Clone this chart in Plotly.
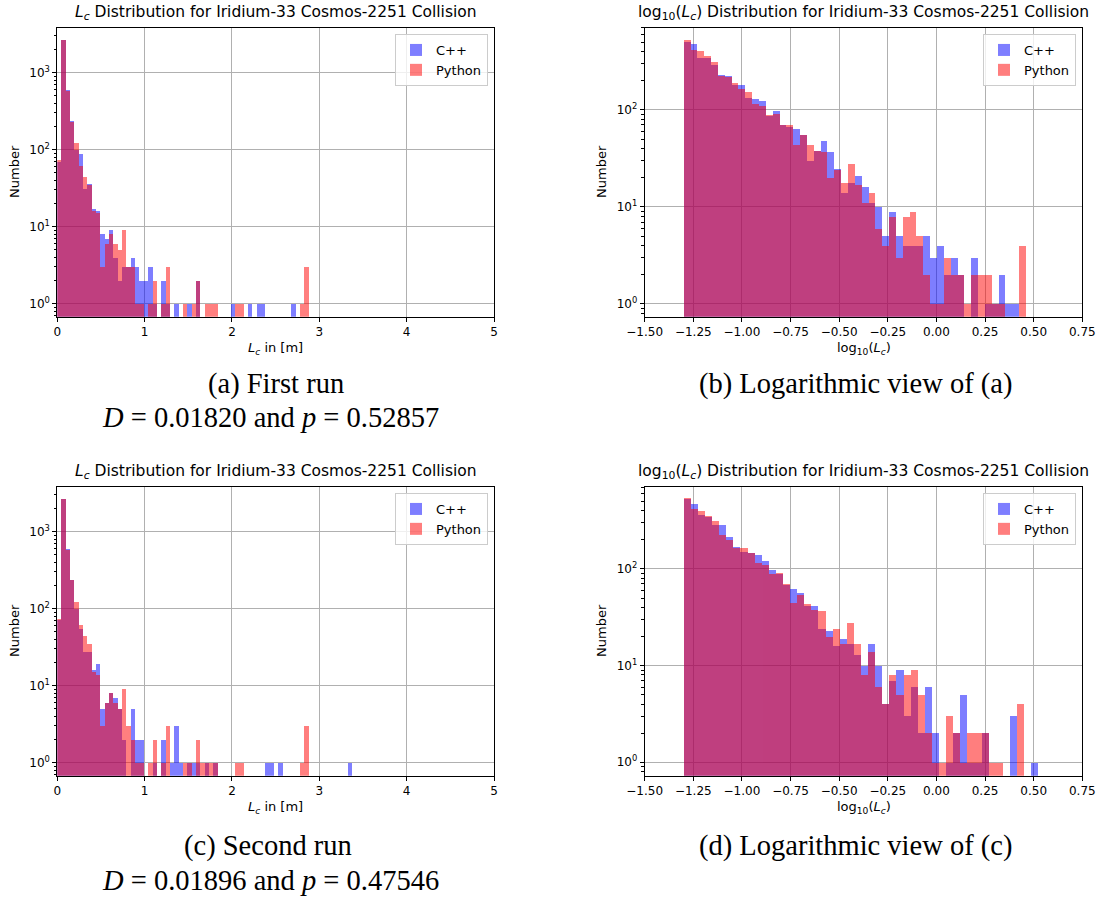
import numpy as np
import plotly.graph_objects as go

W, H = 1107, 898          # browser window
PAGE_MARGIN = 0           # body margin removed by the post script below
FIG_W, FIG_H = W - PAGE_MARGIN, H - PAGE_MARGIN

# ---- histogram bin layout ----
LIN_BIN_START = 0.0
LIN_BIN_WIDTH = 0.0497
LOG_MIN = -1.301
RUN1_LOG_MAX = 0.459
RUN2_LOG_MAX = 0.522

# ---- counts per bin, first run ----
run1_lin_cpp = [70, 2690, 600, 240, 100, 88, 31, 36, 17, 16,
                8, 7, 9, 4, 2, 3, 3, 4, 3, 2,
                2, 3, 1, 0, 2, 1, 0, 1, 0, 0,
                1, 0, 2, 0, 0, 0, 0, 0, 0, 0,
                1, 0, 0, 0, 1, 0, 1, 1, 0, 0,
                0, 0, 0, 0, 1]
run1_lin_py = [73, 2710, 585, 233, 122, 62, 45, 35, 16, 15,
               3, 6, 8, 6, 5, 9, 3, 3, 1, 1,
               0, 1, 2, 0, 1, 3, 0, 0, 0, 1,
               0, 1, 2, 0, 1, 1, 1, 0, 0, 0,
               0, 1, 1, 0, 0, 0, 0, 0, 0, 0,
               0, 0, 0, 0, 0, 0, 1, 3]
run1_log_cpp = [506, 479, 349, 345, 296, 229, 224, 184, 181, 134,
                132, 125, 88, 98, 71, 67, 64, 56, 30, 38,
                48, 37, 25, 14, 18, 21, 16, 11, 10, 5,
                9, 5, 4, 4, 4, 5, 3, 4, 2, 3,
                2, 0, 3, 0, 1, 1, 2, 1, 1, 0]
run1_log_py = [535, 422, 409, 360, 315, 224, 221, 193, 165, 153,
               115, 110, 90, 91, 71, 70, 44, 55, 44, 38,
               37, 20, 24, 18, 28, 17, 11, 14, 6, 4,
               8, 3, 8, 9, 5, 2, 1, 1, 3, 2,
               2, 1, 2, 2, 2, 1, 1, 0, 0, 4]

# ---- counts per bin, second run ----
run2_lin_cpp = [71, 2700, 605, 240, 101, 55, 28, 28, 16, 19,
                5, 6, 8, 7, 5, 2, 0, 5, 2, 2,
                0, 0, 1, 0, 2, 0, 1, 3, 1, 0,
                1, 1, 1, 0, 1, 0, 1, 0, 0, 0,
                0, 0, 0, 0, 0, 0, 0, 0, 1, 1,
                0, 1, 0, 0, 0, 0, 0, 0, 0, 0,
                0, 0, 0, 0, 0, 0, 0, 1]
run2_lin_py = [73, 2720, 578, 235, 122, 62, 45, 35, 15, 14,
               3, 6, 8, 6, 5, 9, 3, 2, 1, 1,
               0, 1, 2, 0, 1, 3, 0, 0, 0, 1,
               1, 0, 2, 1, 1, 1, 1, 0, 0, 0,
               0, 1, 1, 0, 0, 0, 0, 0, 0, 0,
               0, 0, 0, 0, 0, 0, 1, 3]
run2_log_cpp = [535, 470, 362, 350, 285, 285, 216, 170, 151, 146,
                142, 121, 98, 90, 69, 62, 57, 42, 42, 24,
                23, 16, 19, 17, 13, 10, 17, 10, 4, 7,
                9, 3, 6, 2, 6, 2, 0, 1, 2, 5,
                1, 1, 2, 0, 0, 0, 3, 0, 0, 1]
run2_log_py = [540, 418, 401, 356, 316, 228, 200, 165, 164, 146,
               116, 112, 89, 91, 70, 45, 54, 44, 38, 37,
               20, 24, 17, 28, 17, 8, 14, 6, 4, 8,
               5, 8, 9, 5, 2, 1, 1, 3, 2, 1,
               2, 2, 2, 1, 1, 0, 0, 4, 0, 0]

series_names = ["C++", "Python"]
series_colors = ["blue", "red"]

lin_ticks = [0, 1, 2, 3, 4, 5]
log_ticks = [-1.5, -1.25, -1.0, -0.75, -0.5, -0.25, 0.0, 0.25, 0.5, 0.75]
y_ticks = [1, 10, 100, 1000]
y_ticktext = ["10<sup>0</sup>", "10<sup>1</sup>", "10<sup>2</sup>", "10<sup>3</sup>"]

title_lin = "<i>L</i><sub><i>c</i></sub> Distribution for Iridium-33 Cosmos-2251 Collision"
title_log = "log<sub>10</sub>(<i>L</i><sub><i>c</i></sub>) Distribution for Iridium-33 Cosmos-2251 Collision"
xlabel_lin = "<i>L</i><sub><i>c</i></sub> in [m]"
xlabel_log = "log<sub>10</sub>(<i>L</i><sub><i>c</i></sub>)"
captions = ["(a) First run", "(b) Logarithmic view of (a)",
            "(c) Second run", "(d) Logarithmic view of (c)"]
stats = ["<i>D</i> = 0.01820 and <i>p</i> = 0.52857",
         "<i>D</i> = 0.01896 and <i>p</i> = 0.47546"]

FONT = "DejaVu Sans"
SERIF = "Liberation Serif"


def lin_edges(n):
    return LIN_BIN_START + LIN_BIN_WIDTH * np.arange(n + 1)


def log_edges(n, hi):
    return np.linspace(LOG_MIN, hi, n + 1)


def bars(counts, edges, name, color, xa, ya, legend):
    counts = np.asarray(counts, dtype=float)
    centers = 0.5 * (edges[:-1] + edges[1:])
    widths = np.diff(edges)
    y = [c if c > 0 else None for c in counts]
    return go.Bar(x=centers, y=y, width=widths, name=name,
                  marker=dict(color=color, line=dict(width=0)),
                  opacity=0.5, xaxis=xa, yaxis=ya, legend=legend,
                  showlegend=True, hoverinfo="x+y")


fig = go.Figure()

panels = [
    (run1_lin_cpp, run1_lin_py, "lin", None, "x", "y", "legend"),
    (run1_log_cpp, run1_log_py, "log", RUN1_LOG_MAX, "x2", "y2", "legend2"),
    (run2_lin_cpp, run2_lin_py, "lin", None, "x3", "y3", "legend3"),
    (run2_log_cpp, run2_log_py, "log", RUN2_LOG_MAX, "x4", "y4", "legend4"),
]
for cpp, py, kind, hi, xa, ya, lg in panels:
    for counts, name, color in zip([cpp, py], series_names, series_colors):
        edges = lin_edges(len(counts)) if kind == "lin" else log_edges(len(counts), hi)
        fig.add_trace(bars(counts, edges, name, color, xa, ya, lg))


# page pixel -> paper fraction
def px_x(x):
    return (x - PAGE_MARGIN) / FIG_W


def px_y(y):
    return 1 - (y - PAGE_MARGIN) / FIG_H


LEFT_X = (57.3, 494.0)
RIGHT_X = (644.7, 1082.3)
TOP_Y = (27.7, 316.7)
BOT_Y = (486.7, 775.7)

axis_common = dict(showline=True, linecolor="black", linewidth=1, mirror=True,
                   ticks="outside", ticklen=4, tickwidth=1, tickcolor="black",
                   showgrid=True, gridcolor="#b0b0b0", gridwidth=1, zeroline=False,
                   automargin=False,
                   tickfont=dict(family=FONT, size=12, color="black"))

minor_vals = [m * 10 ** e for e in range(-1, 4) for m in range(2, 10)]


def xaxis(kind, dom, anchor):
    d = dict(axis_common, domain=[px_x(dom[0]), px_x(dom[1])], anchor=anchor)
    if kind == "lin":
        d.update(range=[0, 5], tickmode="array", tickvals=lin_ticks,
                 ticktext=[str(v) for v in lin_ticks])
    else:
        d.update(range=[-1.5, 0.75], tickmode="array", tickvals=log_ticks,
                 ticktext=[f"{v:.2f}".replace("-", "\u2212") for v in log_ticks])
    return d


def yaxis(rng, dom, anchor):
    return dict(axis_common, type="log", range=rng, domain=[px_y(dom[1]), px_y(dom[0])],
                tickmode="array", tickvals=y_ticks, ticktext=y_ticktext, anchor=anchor,
                minor=dict(tickmode="array", tickvals=minor_vals, ticks="outside",
                           ticklen=2.4, tickwidth=0.8, tickcolor="black", showgrid=False))


fig.update_layout(
    xaxis=xaxis("lin", LEFT_X, "y"),
    yaxis=yaxis([-0.17, 3.584], TOP_Y, "x"),
    xaxis2=xaxis("log", RIGHT_X, "y2"),
    yaxis2=yaxis([-0.131, 2.848], TOP_Y, "x2"),
    xaxis3=xaxis("lin", LEFT_X, "y3"),
    yaxis3=yaxis([-0.17, 3.584], BOT_Y, "x3"),
    xaxis4=xaxis("log", RIGHT_X, "y4"),
    yaxis4=yaxis([-0.139, 2.851], BOT_Y, "x4"),
)

legend_style = dict(bgcolor="rgba(255,255,255,0.8)", bordercolor="#cccccc", borderwidth=1,
                    font=dict(family=FONT, size=13, color="black"),
                    xanchor="right", yanchor="top", tracegroupgap=0, itemwidth=30)
fig.update_layout(
    legend=dict(legend_style, x=px_x(488), y=px_y(34)),
    legend2=dict(legend_style, x=px_x(1076), y=px_y(34)),
    legend3=dict(legend_style, x=px_x(488), y=px_y(493)),
    legend4=dict(legend_style, x=px_x(1076), y=px_y(493)),
)

annotations = []


def ann(text, x, y, size, family=FONT, angle=0):
    annotations.append(dict(text=text, x=px_x(x), y=px_y(y), xref="paper", yref="paper",
                            showarrow=False, xanchor="center", yanchor="middle",
                            textangle=angle,
                            font=dict(family=family, size=size, color="black")))


lc = (LEFT_X[0] + LEFT_X[1]) / 2
rc = (RIGHT_X[0] + RIGHT_X[1]) / 2
for row_off in (0, 459):
    ann(title_lin, lc, 13 + row_off, 15.5)
    ann(title_log, rc, 13 + row_off, 15.5)
    ann(xlabel_lin, lc, 348 + row_off, 13)
    ann(xlabel_log, rc, 348 + row_off, 13)
    ann("Number", 14, 172 + row_off, 13, angle=-90)
    ann("Number", 601, 172 + row_off, 13, angle=-90)

ann(captions[0], 276, 384, 28.5, SERIF)
ann(stats[0], 270, 418, 28.5, SERIF)
ann(captions[1], 855, 384, 28.5, SERIF)
ann(captions[2], 268, 846, 28.5, SERIF)
ann(stats[1], 270, 880, 28.5, SERIF)
ann(captions[3], 855, 846, 28.5, SERIF)

fig.update_layout(
    annotations=annotations,
    barmode="overlay", bargap=0,
    width=FIG_W, height=FIG_H, autosize=False,
    margin=dict(l=0, r=0, t=0, b=0, autoexpand=False),
    paper_bgcolor="white", plot_bgcolor="white",
    font=dict(family=FONT, color="black"),
)

fig.write_html("out.html",
               config={"displayModeBar": False},
               post_script="document.body.style.margin='0px';"
                           "document.body.style.overflow='hidden';")
